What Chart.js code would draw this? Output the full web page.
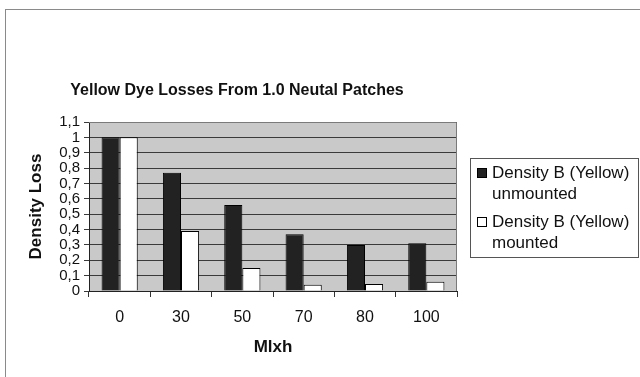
<!DOCTYPE html>
<html>
<head>
<meta charset="utf-8">
<script src="https://cdn.jsdelivr.net/npm/chart.js@4/dist/chart.umd.min.js"></script>
<style>
  html, body { margin: 0; padding: 0; background: #fff; }
  canvas { display: block; }
</style>
</head>
<body>
<canvas id="c" width="640" height="377"></canvas>
<script>
// Exposure levels (Mlxh) and density losses for both sample types
const categories = ['0', '30', '50', '70', '80', '100'];
const unmounted = [1.0, 0.77, 0.56, 0.37, 0.30, 0.31];
const mounted = [1.0, 0.39, 0.15, 0.04, 0.045, 0.06];
const seriesNames = ['Density B (Yellow)\nunmounted', 'Density B (Yellow)\nmounted'];
const yTickLabels = ['0', '0,1', '0,2', '0,3', '0,4', '0,5', '0,6', '0,7', '0,8', '0,9', '1', '1,1'];
const chartTitle = 'Yellow Dye Losses From 1.0 Neutal Patches';

const FONT = '"Liberation Sans", Arial, sans-serif';

// Outer frame, grey plot background and plot border
const framePlugin = {
  id: 'frame',
  beforeDraw(chart) {
    const { ctx, chartArea: a } = chart;
    ctx.save();
    ctx.fillStyle = '#fff';
    ctx.fillRect(0, 0, chart.width, chart.height);
    ctx.strokeStyle = '#8a8a8a';
    ctx.lineWidth = 1;
    ctx.strokeRect(5.5, 9.5, chart.width + 10, chart.height + 10);
    ctx.fillStyle = '#c9c9c9';
    ctx.fillRect(a.left, a.top, a.right - a.left, a.bottom - a.top);
    ctx.restore();
  },
  afterDatasetsDraw(chart) {
    const { ctx, chartArea: a } = chart;
    ctx.save();
    ctx.strokeStyle = '#7a7a7a';
    ctx.lineWidth = 1;
    ctx.beginPath();
    ctx.moveTo(a.left, a.top + 0.5);
    ctx.lineTo(a.right - 0.5, a.top + 0.5);
    ctx.lineTo(a.right - 0.5, a.bottom);
    ctx.stroke();
    ctx.restore();
  }
};

// Title and boxed legend with two-line entries
const textPlugin = {
  id: 'texts',
  afterDraw(chart) {
    const { ctx } = chart;
    ctx.save();
    ctx.fillStyle = '#111';
    ctx.font = 'bold 16px ' + FONT;
    ctx.textAlign = 'center';
    ctx.textBaseline = 'middle';
    ctx.fillText(chartTitle, 237, 91);

    // legend
    const lx = 470.5, ly = 158.5, lw = 168, lh = 99;
    ctx.strokeStyle = '#555';
    ctx.lineWidth = 1;
    ctx.strokeRect(lx, ly, lw, lh);
    ctx.font = '17px ' + FONT;
    ctx.textAlign = 'left';
    const rowTops = [173, 222];
    chart.data.datasets.forEach((ds, i) => {
      const lines = seriesNames[i].split('\n');
      const y0 = rowTops[i];
      ctx.fillStyle = ds.backgroundColor;
      ctx.fillRect(477.5, y0 - 4.5, 9, 9);
      ctx.strokeStyle = '#000';
      ctx.strokeRect(477.5, y0 - 4.5, 9, 9);
      ctx.fillStyle = '#111';
      lines.forEach((t, j) => ctx.fillText(t, 492, y0 + j * 21));
    });
    ctx.restore();
  }
};

new Chart(document.getElementById('c'), {
  type: 'bar',
  data: {
    labels: categories,
    datasets: [
      { label: seriesNames[0], data: unmounted, backgroundColor: '#222222', borderColor: '#000', borderWidth: 1 },
      { label: seriesNames[1], data: mounted, backgroundColor: '#ffffff', borderColor: '#000', borderWidth: 1 }
    ]
  },
  options: {
    responsive: false,
    animation: false,
    layout: { padding: { left: 0, top: 122, right: 183, bottom: 0 } },
    datasets: { bar: { categoryPercentage: 0.59, barPercentage: 1.0 } },
    plugins: {
      legend: { display: false },
      title: { display: false },
      tooltip: { enabled: false }
    },
    scales: {
      x: {
        grid: { display: true, drawOnChartArea: false, drawTicks: true, tickLength: 6, color: '#333', offset: true },
        border: { display: true, color: '#222', width: 1 },
        ticks: { color: '#111', font: { family: FONT, size: 16 }, padding: 11, maxRotation: 0 },
        title: { display: true, text: 'Mlxh', color: '#111', font: { family: FONT, size: 17, weight: 'bold' }, padding: { top: 0, bottom: 19 } },
        afterFit(scale) { scale.height = 86; }
      },
      y: {
        min: 0,
        max: 1.1,
        ticks: {
          stepSize: 0.1,
          autoSkip: false,
          color: '#111',
          font: { family: FONT, size: 15 },
          padding: 4,
          callback: (v, i) => yTickLabels[i]
        },
        grid: { color: '#3a3a3a', lineWidth: 1, drawTicks: true, tickLength: 5 },
        border: { display: true, color: '#222', width: 1 },
        title: { display: true, text: 'Density Loss', color: '#111', font: { family: FONT, size: 17, weight: 'bold' }, padding: { top: 26, bottom: 0 } },
        afterFit(scale) { scale.width = 89; }
      }
    }
  },
  plugins: [framePlugin, textPlugin]
});
</script>
</body>
</html>
